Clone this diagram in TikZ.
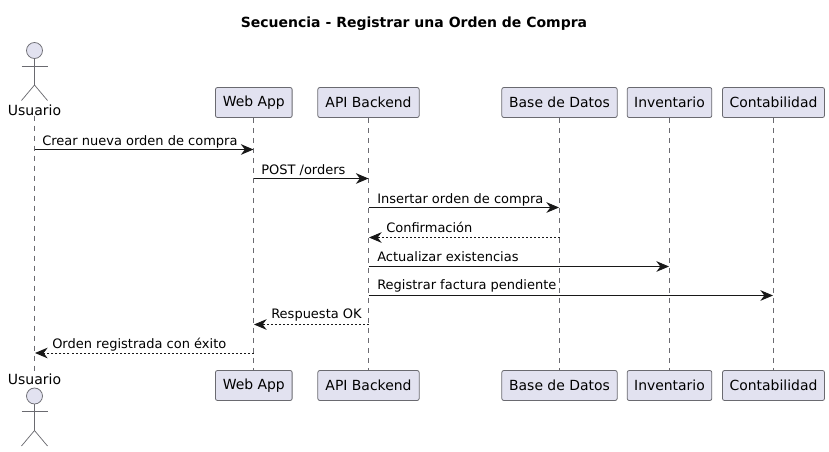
\documentclass[tikz,border=0pt]{standalone}
\usepackage{xcolor}
\usepackage{fontspec}
\setmainfont{DejaVu Sans}
\usetikzlibrary{arrows.meta}

\definecolor{partfill}{HTML}{E2E2F0}
\definecolor{partline}{HTML}{6A6A70}
\definecolor{msgline}{HTML}{181818}

\tikzset{
  partbox/.style={draw=partline,fill=partfill,line width=0.6pt,rounded corners=1.5pt,minimum height=22.5pt,inner sep=0pt,font=\fontsize{10.45pt}{12pt}\selectfont,text=black},
  lifeline/.style={draw=partline,line width=0.5pt,dash pattern=on 3.75pt off 3.75pt},
  actorline/.style={draw=partline,line width=0.55pt},
  actorname/.style={inner sep=0pt,font=\fontsize{10.5pt}{12pt}\selectfont,text=black},
  msg/.style={draw=msgline,line width=0.75pt,-{Stealth[length=9.5pt,width=8pt,inset=3pt]}},
  reply/.style={msg,dash pattern=on 1.5pt off 1.5pt},
  msgtext/.style={anchor=west,inner sep=0pt,font=\fontsize{9.75pt}{12pt}\selectfont,text=black}
}

\begin{document}
\begin{tikzpicture}[x=0.75pt,y=0.75pt,yscale=-1,xscale=1]
\useasboundingbox (0,0) rectangle (829,451);

% Title
\node (title) [inner sep=0pt,font=\bfseries\fontsize{10.5pt}{12pt}\selectfont] at (414,24) {Secuencia - Registrar una Orden de Compra};

% Top row
\node (usrtop) [actorname] at (34.5,110) {Usuario};
\node (webtop) [partbox,minimum width=57.5pt] at (253.8,102.5) {Web App};
\node (apitop) [partbox,minimum width=76pt] at (368.5,102.5) {API Backend};
\node (dbtop) [partbox,minimum width=86.5pt] at (559.5,102.5) {Base de Datos};
\node (invtop) [partbox,minimum width=63.5pt] at (669.5,102.5) {Inventario};
\node (contop) [partbox,minimum width=76.5pt] at (773.5,102.5) {Contabilidad};

% Bottom row
\node (usrbot) [actorname] at (34.5,379) {Usuario};
\node (webbot) [partbox,minimum width=57.5pt] at (253.8,385.5) {Web App};
\node (apibot) [partbox,minimum width=76pt] at (368.5,385.5) {API Backend};
\node (dbbot) [partbox,minimum width=86.5pt] at (559.5,385.5) {Base de Datos};
\node (invbot) [partbox,minimum width=63.5pt] at (669.5,385.5) {Inventario};
\node (conbot) [partbox,minimum width=76.5pt] at (773.5,385.5) {Contabilidad};

% Lifelines
\draw [lifeline] (usrtop.south) -- (usrbot.north);
\draw [lifeline] (webtop.south) -- (webbot.north);
\draw [lifeline] (apitop.south) -- (apibot.north);
\draw [lifeline] (dbtop.south) -- (dbbot.north);
\draw [lifeline] (invtop.south) -- (invbot.north);
\draw [lifeline] (contop.south) -- (conbot.north);

% Actor top
\draw [actorline,fill=partfill] (34.5,50.5) circle (8);
\draw [actorline] (34.5,58.5) -- (34.5,85);
\draw [actorline] (21.5,66) -- (47.5,66);
\draw [actorline] (21.5,100.5) -- (34.5,85) -- (47.5,100.5);

% Actor bottom
\draw [actorline,fill=partfill] (34.5,396) circle (8);
\draw [actorline] (34.5,404) -- (34.5,430.5);
\draw [actorline] (21.5,411.5) -- (47.5,411.5);
\draw [actorline] (21.5,446) -- (34.5,430.5) -- (47.5,446);

% Message ends
\coordinate (m1a) at (34.5,149.5);
\coordinate (m1b) at (253.5,149.5);
\coordinate (m2a) at (253.5,178.5);
\coordinate (m2b) at (368.5,178.5);
\coordinate (m3a) at (368.5,207.5);
\coordinate (m3b) at (559,207.5);
\coordinate (m4a) at (559.5,237.5);
\coordinate (m4b) at (369,237.5);
\coordinate (m5a) at (368.5,266.5);
\coordinate (m5b) at (669,266.5);
\coordinate (m6a) at (368.5,295.5);
\coordinate (m6b) at (773,295.5);
\coordinate (m7a) at (368.5,324.5);
\coordinate (m7b) at (254,324.5);
\coordinate (m8a) at (253.5,353);
\coordinate (m8b) at (35,353);

% Messages
\draw [msg] (m1a) -- (m1b);
\draw [msg] (m2a) -- (m2b);
\draw [msg] (m3a) -- (m3b);
\draw [reply] (m4a) -- (m4b);
\draw [msg] (m5a) -- (m5b);
\draw [msg] (m6a) -- (m6b);
\draw [reply] (m7a) -- (m7b);
\draw [reply] (m8a) -- (m8b);

% Message labels
\node (t1) [msgtext] at (42,141.5) {Crear nueva orden de compra};
\node (t2) [msgtext] at (261,170.5) {POST /orders};
\node (t3) [msgtext] at (377,199.5) {Insertar orden de compra};
\node (t4) [msgtext] at (386,227.5) {Confirmación};
\node (t5) [msgtext] at (377,257) {Actualizar existencias};
\node (t6) [msgtext] at (377,286) {Registrar factura pendiente};
\node (t7) [msgtext] at (271,315) {Respuesta OK};
\node (t8) [msgtext] at (52,344.5) {Orden registrada con éxito};

\end{tikzpicture}
\end{document}
